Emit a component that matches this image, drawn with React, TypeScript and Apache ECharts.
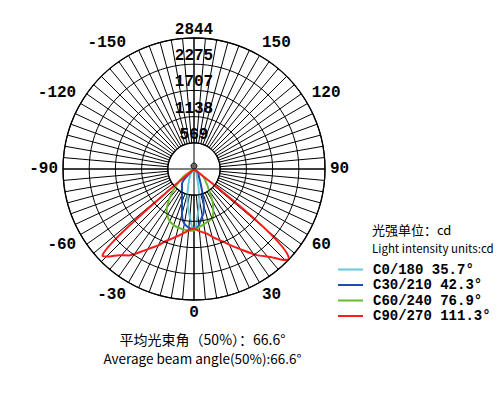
import React, { useEffect, useRef } from 'react';
import * as echarts from 'echarts';

const MAX_CD = 2844;
const RING_STEP = 568.8;
const radiusTickLabels = ['', '569', '1138', '1707', '2275', '2844'];
const angleTickLabels = [-150, -120, -90, -60, -30, 0, 30, 60, 90, 120, 150];

const seriesNames = ['C0/180 35.7°', 'C30/210 42.3°', 'C60/240 76.9°', 'C90/270 111.3°'];

// C0/180
const c0Angles = [-60, -35, -24, -16, -12, -8, -5, -2, 0, 2, 4, 7, 10, 14, 20, 35, 60];
const c0Values = [0, 120, 260, 500, 680, 880, 1040, 1250, 1300, 1250, 1040, 850, 683, 400, 200, 80, 0];

// C30/210
const c30Angles = [-60, -45, -38.7, -30, -25.6, -18.9, -14.9, -12, -8, -4, 0, 4, 8, 12, 14, 17, 20, 25, 35, 45, 60];
const c30Values = [0, 200, 417, 520, 602, 803, 1011, 1150, 1240, 1290, 1310, 1260, 1100, 980, 880, 700, 520, 330, 180, 130, 0];

// C60/240
const c60Angles = [-70, -54, -48, -42.5, -38, -33.7, -29, -24.5, -19, -13.3, -8, -3.7, 0, 2, 6, 12, 17, 21, 25, 29, 33.4, 40, 50, 70];
const c60Values = [0, 286, 500, 716, 900, 1070, 1180, 1257, 1300, 1323, 1335, 1342, 1335, 1310, 1259, 1200, 1165, 1140, 990, 840, 632, 440, 260, 0];

// C90/270
const c90Angles = [-90, -49, -46.5, -44, -41, -37, -33, -29, -25, -22, -17, -12, -8, -4, 0, 4, 8, 11, 16, 22, 26, 30, 36, 41, 44.5, 46.5, 49, 90];
const c90Values = [0, 0, 2740, 2640, 2480, 2350, 2150, 1970, 1830, 1700, 1570, 1465, 1390, 1320, 1290, 1340, 1390, 1423, 1550, 1702, 1850, 2009, 2311, 2529, 2768, 2844, 0, 0];

const unitTextCn = '光强单位：cd';
const unitTextEn = 'Light intensity units:cd';
const beamTextCn = '平均光束角（50%）：66.6°';
const beamTextEn = 'Average beam angle(50%):66.6°';

const toPolar = (angles: number[], values: number[]) => angles.map((a, i) => [values[i], a]);

export default function App() {
  const ref = useRef<HTMLDivElement>(null);
  useEffect(() => {
    if (!ref.current) return;
    const chart = echarts.init(ref.current, null, { renderer: 'svg' });
    const cx = 194;
    const cy = 169;
    const R = 131;
    const lineSeries = (idx: number, angles: number[], values: number[], color: string) => ({
      name: seriesNames[idx],
      type: 'line',
      coordinateSystem: 'polar',
      polarIndex: 0,
      data: toPolar(angles, values),
      symbol: 'none',
      smooth: idx === 3 ? 0.2 : 0.3,
      lineStyle: { color, width: 2 },
      itemStyle: { color },
      z: 5 + idx,
    });
    const option: any = {
      animation: false,
      backgroundColor: '#fff',
      polar: [
        { center: [cx, cy], radius: [0, R] },
        { center: [cx, cy], radius: [R / 5, R] },
      ],
      angleAxis: [
        {
          polarIndex: 0,
          type: 'value',
          min: -180,
          max: 180,
          interval: 90,
          startAngle: 90,
          clockwise: false,
          axisLine: { show: false },
          axisTick: { show: false },
          axisLabel: { show: false },
          splitLine: { show: true, lineStyle: { color: '#000', width: 1 } },
        },
        {
          polarIndex: 1,
          type: 'value',
          min: -180,
          max: 180,
          interval: 5,
          startAngle: 90,
          clockwise: false,
          axisLine: { show: true, lineStyle: { color: '#000', width: 1.3 } },
          axisTick: { show: false },
          axisLabel: {
            show: true,
            margin: 5,
            color: '#000',
            fontFamily: 'Liberation Mono',
            fontWeight: 'bold',
            fontSize: 16,
            formatter: (v: number) => {
              const n = Math.round(v);
              return angleTickLabels.indexOf(n) >= 0 ? String(n) : '';
            },
          },
          splitLine: { show: true, lineStyle: { color: '#000', width: 1 } },
        },
      ],
      radiusAxis: [
        {
          polarIndex: 0,
          type: 'value',
          min: 0,
          max: MAX_CD,
          interval: RING_STEP,
          axisLine: { show: false },
          axisTick: { show: false },
          splitLine: { show: true, lineStyle: { color: '#000', width: 1 } },
          axisLabel: {
            margin: 0,
            align: 'center',
            verticalAlign: 'bottom',
            color: '#000',
            fontFamily: 'Liberation Mono',
            fontWeight: 'bold',
            fontSize: 16,
            formatter: (v: number) => radiusTickLabels[Math.round(v / RING_STEP)] || '',
          },
          z: 10,
        },
        { polarIndex: 1, type: 'value', min: 0, max: 1, show: false },
      ],
      legend: {
        data: seriesNames,
        orient: 'vertical',
        left: 338,
        top: 262,
        padding: 0,
        itemWidth: 25,
        itemHeight: 2,
        itemGap: 0.5,
        icon: 'rect',
        selectedMode: false,
        textStyle: {
          fontFamily: 'Liberation Mono',
          fontWeight: 'bold',
          fontSize: 14,
          color: '#000',
          lineHeight: 15,
          padding: [0, 0, 0, 5],
        },
      },
      graphic: [
        {
          type: 'circle',
          shape: { cx: cx, cy: cy - 3, r: 3 },
          style: { fill: '#666', stroke: '#111', lineWidth: 1 },
          z: 100,
        },
        {
          type: 'text',
          x: 372,
          y: 229.5,
          style: { text: unitTextCn, font: '13px "Noto Sans CJK SC"', fill: '#000', textVerticalAlign: 'middle', verticalAlign: 'middle' },
        },
        {
          type: 'text',
          x: 372,
          y: 248,
          style: { text: unitTextEn, font: '11.5px "Noto Sans CJK SC"', fill: '#000', textVerticalAlign: 'middle', verticalAlign: 'middle' },
        },
        {
          type: 'text',
          x: 202.5,
          y: 338.5,
          style: { text: beamTextCn, font: '14px "Noto Sans CJK SC"', fill: '#000', textAlign: 'center', align: 'center', textVerticalAlign: 'middle', verticalAlign: 'middle' },
        },
        {
          type: 'text',
          x: 202.5,
          y: 357.5,
          style: { text: beamTextEn, font: '13.5px "Noto Sans CJK SC"', fill: '#000', textAlign: 'center', align: 'center', textVerticalAlign: 'middle', verticalAlign: 'middle' },
        },
      ],
      series: [
        lineSeries(0, c0Angles, c0Values, '#66c8dc'),
        lineSeries(1, c30Angles, c30Values, '#1c4db5'),
        lineSeries(2, c60Angles, c60Values, '#66bb2e'),
        lineSeries(3, c90Angles, c90Values, '#ff1a1a'),
      ],
    };
    chart.setOption(option);
    return () => chart.dispose();
  }, []);
  return <div ref={ref} style={{ position: 'fixed', left: 0, top: 0, width: 500, height: 396 }} />;
}
